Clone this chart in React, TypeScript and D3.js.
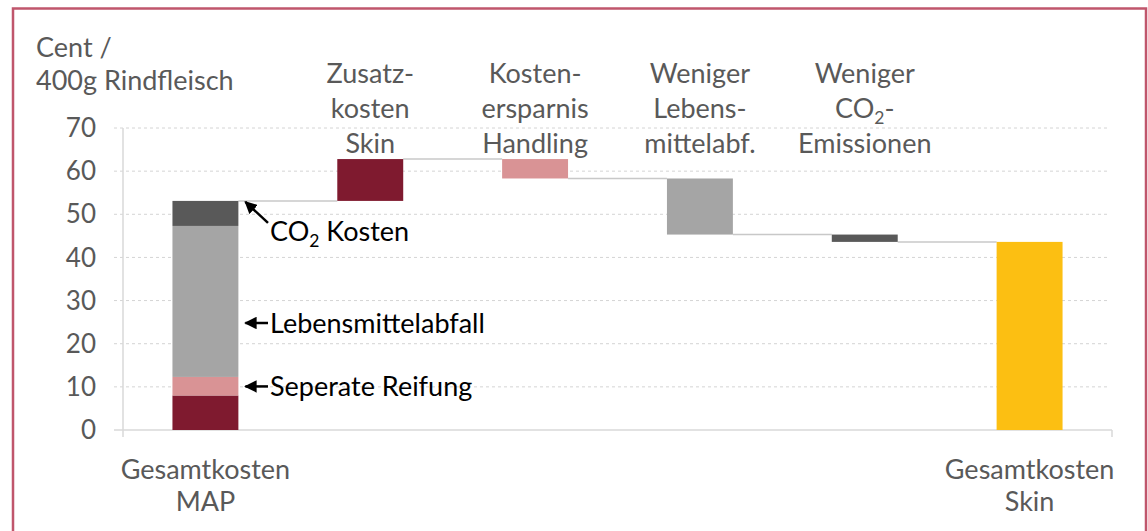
import React from "react";
import * as d3 from "d3";

// waterfall: MAP total (stacked) -> deltas -> Skin total
const categories = ["MAP", "Zusatz", "Handling", "Lebensm", "CO2", "Skin"];
const topLabels = [
  [],
  ["Zusatz-", "kosten", "Skin"],
  ["Kosten-", "ersparnis", "Handling"],
  ["Weniger", "Lebens-", "mittelabf."],
  ["Weniger", "CO2-", "Emissionen"],
  [],
];
const bottomLabels = [["Gesamtkosten", "MAP"], [], [], [], [], ["Gesamtkosten", "Skin"]];

// MAP stack, bottom to top
const mapSegments = [8, 4.3, 35, 5.8];
const mapColors = ["#7f1a2f", "#d99395", "#a5a5a5", "#595959"];

const deltas = [9.7, -4.5, -13, -1.7];
const deltaColors = ["#7f1a2f", "#d99395", "#a5a5a5", "#595959"];
const totalColor = "#fcbf12";

const yTicks = [0, 10, 20, 30, 40, 50, 60, 70];

// annotations on the MAP bar: label, value where the arrow points
const notes = [
  { label: "CO2 Kosten", value: 53.1, diagonal: true },
  { label: "Lebensmittelabfall", value: 24.8, diagonal: false },
  { label: "Seperate Reifung", value: 10.1, diagonal: false },
];

const W = 1148;
const H = 531;
const font = "Lato, 'Open Sans', sans-serif";
const grey = "#595959";
const fs = 27;

function Sub({ text }: { text: string }) {
  // render "CO2" with a subscript 2
  const i = text.indexOf("CO2");
  if (i < 0) return <>{text}</>;
  return (
    <>
      {text.slice(0, i)}CO
      <tspan dy={6} fontSize="0.65em">2</tspan>
      <tspan dy={-6}>{text.slice(i + 3)}</tspan>
    </>
  );
}

export default function App() {
  const x = d3.scaleBand().domain(categories).range([123, 1112]).paddingInner(0.6).paddingOuter(0.3);
  const y = d3.scaleLinear().domain([0, 70]).range([430, 128]);
  const bw = x.bandwidth();

  // build waterfall bars
  const bars: { key: string; y0: number; y1: number; color: string }[] = [];
  let acc = 0;
  mapSegments.forEach((v, i) => {
    bars.push({ key: categories[0], y0: acc, y1: acc + v, color: mapColors[i] });
    acc += v;
  });
  const levels = [acc];
  deltas.forEach((d, i) => {
    bars.push({ key: categories[i + 1], y0: acc, y1: acc + d, color: deltaColors[i] });
    acc += d;
    levels.push(acc);
  });
  bars.push({ key: categories[5], y0: 0, y1: acc, color: totalColor });

  const mapRight = (x(categories[0]) as number) + bw;

  return (
    <svg width={W} height={H} style={{ position: "absolute", left: 0, top: 0, background: "#fff" }} fontFamily={font}>
      <defs>
        <marker id="ah" viewBox="0 0 10 10" refX="9" refY="5" markerWidth="5" markerHeight="5" orient="auto">
          <path d="M0,0 L10,5 L0,10 z" fill="#000" />
        </marker>
      </defs>
      {/* frame */}
      <path d={`M13,${H} L13,8.5 L1146,8.5 L1146,${H}`} fill="none" stroke="#c0566c" strokeWidth={2.5} />

      {/* axis title */}
      <text x={36} y={57} fontSize={fs} fill={grey}>Cent /</text>
      <text x={36} y={90} fontSize={fs} fill={grey}>400g Rindfleisch</text>

      {/* grid */}
      {yTicks.filter((t) => t > 0).map((t) => (
        <line key={t} x1={114} x2={1110} y1={y(t)} y2={y(t)} stroke="#d4d4d4" strokeWidth={1} strokeDasharray="3,3" />
      ))}
      <line x1={123} x2={123} y1={y(70)} y2={437} stroke="#d9d9d9" strokeWidth={1.5} />
      <line x1={114} x2={1112} y1={y(0)} y2={y(0)} stroke="#d9d9d9" strokeWidth={1.5} />
      <line x1={1112} x2={1112} y1={y(0)} y2={437} stroke="#d9d9d9" strokeWidth={1.5} />
      {yTicks.map((t) => (
        <text key={t} x={96} y={y(t)} dy="0.35em" textAnchor="end" fontSize={26} fill={grey}>{t}</text>
      ))}

      {/* connectors */}
      {levels.map((lv, i) => (
        <line key={i} x1={(x(categories[i]) as number) + bw} x2={x(categories[i + 1]) as number}
          y1={y(lv)} y2={y(lv)} stroke="#c8c8c8" strokeWidth={1.5} />
      ))}

      {/* bars */}
      {bars.map((b, i) => (
        <rect key={i} x={x(b.key)} width={bw} y={y(Math.max(b.y0, b.y1))}
          height={Math.abs(y(b.y0) - y(b.y1))} fill={b.color} />
      ))}

      {/* category labels */}
      {topLabels.map((lines, i) => lines.map((l, j) => (
        <text key={`t${i}${j}`} x={(x(categories[i]) as number) + bw / 2} y={83 + j * 35}
          textAnchor="middle" fontSize={fs} fill={grey}><Sub text={l} /></text>
      )))}
      {bottomLabels.map((lines, i) => lines.map((l, j) => (
        <text key={`b${i}${j}`} x={(x(categories[i]) as number) + bw / 2} y={479 + j * 32}
          textAnchor="middle" fontSize={fs} fill={grey}>{l}</text>
      )))}

      {/* annotations */}
      {notes.map((n) => {
        const ty = y(n.value);
        if (n.diagonal) {
          return (
            <g key={n.label}>
              <line x1={268} y1={ty + 22} x2={mapRight + 7} y2={ty + 1} stroke="#000" strokeWidth={2.5} markerEnd="url(#ah)" />
              <text x={270} y={ty + 40} fontSize={fs} fill="#000"><Sub text={n.label} /></text>
            </g>
          );
        }
        return (
          <g key={n.label}>
            <line x1={268} y1={ty} x2={mapRight + 7} y2={ty} stroke="#000" strokeWidth={2.5} markerEnd="url(#ah)" />
            <text x={270} y={ty} dy="0.36em" fontSize={fs} fill="#000">{n.label}</text>
          </g>
        );
      })}
    </svg>
  );
}
